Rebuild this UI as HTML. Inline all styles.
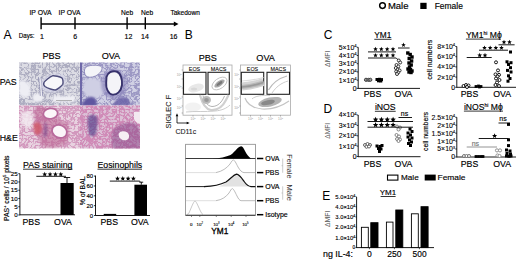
<!DOCTYPE html>
<html><head><meta charset="utf-8"><style>
html,body{margin:0;padding:0;background:#fff;width:520px;height:260px;overflow:hidden}
svg{display:block}
text{font-family:"Liberation Sans",sans-serif;stroke:currentColor;stroke-width:0.15px}
</style></head><body>
<svg width="520" height="260" viewBox="0 0 520 260">
<line x1="41" y1="24" x2="175" y2="24" stroke="#000" stroke-width="1.4" />
<path d="M173.8,21.5 L178.5,24 L173.8,26.5 Z" fill="#000" stroke="none" stroke-width="1" />
<line x1="41.1" y1="17.3" x2="41.1" y2="29.3" stroke="#000" stroke-width="1.4" />
<line x1="75" y1="17.3" x2="75" y2="29.3" stroke="#000" stroke-width="1.4" />
<line x1="127.1" y1="17.3" x2="127.1" y2="29.3" stroke="#000" stroke-width="1.4" />
<line x1="145.3" y1="17.3" x2="145.3" y2="29.3" stroke="#000" stroke-width="1.4" />
<text x="40.5" y="15" font-size="6.6" text-anchor="middle"  textLength="22.2" lengthAdjust="spacingAndGlyphs">IP OVA</text>
<text x="69.5" y="15" font-size="6.6" text-anchor="middle"  textLength="22" lengthAdjust="spacingAndGlyphs">IP OVA</text>
<text x="127.1" y="15" font-size="6.65" text-anchor="middle" >Neb</text>
<text x="147" y="15" font-size="6.65" text-anchor="middle" >Neb</text>
<text x="185.1" y="15" font-size="6.6" text-anchor="middle"  textLength="29.4" lengthAdjust="spacingAndGlyphs">Takedown</text>
<text x="18.75" y="38.3" font-size="6.4" text-anchor="start"  textLength="15.8" lengthAdjust="spacingAndGlyphs">Days:</text>
<text x="42" y="38.5" font-size="7" text-anchor="middle" >1</text>
<text x="75.1" y="38.5" font-size="7" text-anchor="middle" >6</text>
<text x="128.4" y="38.5" font-size="7" text-anchor="middle" >12</text>
<text x="144.9" y="38.5" font-size="7" text-anchor="middle" >14</text>
<text x="173.6" y="38.5" font-size="7" text-anchor="middle" >16</text>
<text x="3.6" y="38.5" font-size="12.2" text-anchor="start" style="stroke:none">A</text>
<text x="184.8" y="38.7" font-size="12" text-anchor="start" style="stroke:none">B</text>
<defs>
<filter id="n1" x="0" y="0" width="1" height="1"><feTurbulence type="turbulence" baseFrequency="0.28" numOctaves="2" seed="3"/><feColorMatrix type="matrix" values="0 0 0 0 0.412 0 0 0 0 0.412 0 0 0 0 0.529 -5.0 0 0 0 1.6"/><feComposite in2="SourceGraphic" operator="in"/></filter>
<filter id="n2" x="0" y="0" width="1" height="1"><feTurbulence type="turbulence" baseFrequency="0.28" numOctaves="2" seed="7"/><feColorMatrix type="matrix" values="0 0 0 0 0.333 0 0 0 0 0.314 0 0 0 0 0.549 -5.0 0 0 0 1.65"/><feComposite in2="SourceGraphic" operator="in"/></filter>
<filter id="n3" x="0" y="0" width="1" height="1"><feTurbulence type="turbulence" baseFrequency="0.28" numOctaves="2" seed="11"/><feColorMatrix type="matrix" values="0 0 0 0 0.647 0 0 0 0 0.314 0 0 0 0 0.510 -5.0 0 0 0 1.7"/><feComposite in2="SourceGraphic" operator="in"/></filter>
<filter id="n4" x="0" y="0" width="1" height="1"><feTurbulence type="turbulence" baseFrequency="0.3" numOctaves="2" seed="5"/><feColorMatrix type="matrix" values="0 0 0 0 0.627 0 0 0 0 0.255 0 0 0 0 0.471 -5.0 0 0 0 1.85"/><feComposite in2="SourceGraphic" operator="in"/></filter>
<clipPath id="c1"><rect x="19" y="62.5" width="61" height="43"/></clipPath>
<clipPath id="c2"><rect x="80" y="62.5" width="60" height="43"/></clipPath>
<clipPath id="c3"><rect x="19" y="105.5" width="61" height="43"/></clipPath>
<clipPath id="c4"><rect x="80" y="105.5" width="60" height="43"/></clipPath>
<filter id="sb" x="-30%" y="-30%" width="160%" height="160%"><feGaussianBlur stdDeviation="0.8"/></filter>
</defs>
<rect x="19" y="62.5" width="61" height="43" fill="#dcdce4" />
<rect x="19" y="62.5" width="61" height="43" fill="#000" filter="url(#n1)"/>
<g clip-path="url(#c1)">
<path d="M19,81 C23,79 28,82 30,86 C31,91 30,96 27,97 C23,98 20,96 19,94Z" fill="#eeeef4" stroke="none" stroke-width="1" filter="url(#sb)"/>
<path d="M33,95 C36,92 41,93 43,96 C44,100 40,103 35,102 C32,100 32,97 33,95Z" fill="#eeeef4" stroke="none" stroke-width="1" filter="url(#sb)"/>
<path d="M39.8,77 C40.5,83 41,89 41.5,96" fill="none" stroke="#eeeef4" stroke-width="1.5" />
<path d="M38.6,77 C39.3,83 39.8,89 40.3,96 M41,77 C41.7,83 42.2,89 42.7,96" fill="none" stroke="#8080a8" stroke-width="0.6" />
<rect x="53" y="96" width="22" height="6" fill="#eeeef4" filter="url(#sb)"/>
<line x1="56" y1="100.5" x2="72" y2="100.5" stroke="#888" stroke-width="0.6" />
<path d="M41,84 C41,80 46,76.5 52,74.5 C57,73 62,73.5 64.5,76.5 C66.5,79.5 65.5,85 61.5,89 C57.5,92 51,93 46.5,91.5 C43,90.3 41,87.5 41,84Z" fill="#d4d4e6" filter="url(#sb)"/>
<path d="M44,82.5 C44.5,81.5 50,76.5 52.5,75.8 C54.5,75.3 60,76.8 61.8,77.8 C63,78.6 63.3,82.5 62.8,84.2 C62,86 57,89.5 55.5,90 C54,90.4 47,88 45,86.5 C43.8,85.5 43.6,83.4 44,82.5Z" fill="#f7f7fa" stroke="#4e4e7c" stroke-width="1.4" />
</g>
<rect x="80" y="62.5" width="60" height="43" fill="#d0d0e4" />
<rect x="80" y="62.5" width="60" height="43" fill="#000" filter="url(#n2)"/>
<g clip-path="url(#c2)">
<path d="M84,80 C90,77 100,78 104,84 C106,90 104,96 97,98 C90,99 84,96 83,90Z" fill="#cfcfe4" stroke="none" stroke-width="1" filter="url(#sb)"/>
<rect x="79.5" y="62.5" width="2.6" height="43" fill="#6e68a8" />
<path d="M84.5,70 C85,66.5 89,65.3 94,65.3 C98,65.3 101.5,65.8 102,67.8 C102.3,70.5 99.5,74 95.5,76 C91.5,77.8 87.5,77.6 85.8,75.8 C84.6,74.3 84.3,72 84.5,70Z" fill="#f4f4f8" stroke="#7c78b0" stroke-width="0.8" />
<ellipse cx="114" cy="84" rx="13" ry="15" fill="#8a84bc" filter="url(#sb)" opacity="0.6"/>
<path d="M106.5,77 C107.5,72.5 112,70.5 116.5,71.5 C120.5,73 122.5,79 122,85 C121,91.5 117,95 112.5,94.6 C108,94 105.8,88 106.2,83Z" fill="#f4f4f8" stroke="#36316c" stroke-width="1.9" />
<path d="M82,106 C83,100 87,96.5 92,97 C96,98 97,102 96.5,106Z" fill="#5e56a0" stroke="none" stroke-width="1" filter="url(#sb)"/>
<path d="M113,106 C115,100 119,96 124,96.5 C129,98 131,102 130,106Z" fill="#6c64a8" stroke="none" stroke-width="1" filter="url(#sb)" opacity="0.85"/>
</g>
<rect x="19" y="105.5" width="61" height="43" fill="#e8d2e0" />
<rect x="19" y="105.5" width="61" height="43" fill="#000" filter="url(#n3)"/>
<g clip-path="url(#c3)">
<path d="M22,112 C26,110 31,112 33,116 C34,121 32,126 28,127 C24,127 21,122 21,117Z" fill="#f4ecf2" stroke="none" stroke-width="1" filter="url(#sb)" opacity="0.8"/>
<path d="M36,106 C42,106 48,107 52,112 C56,118 60,121 66,122 C70,126 70,138 66,143 C60,148 50,149 44,147 C38,142 36,132 35,122 C34,115 34,109 36,106Z" fill="#b8608f" stroke="none" stroke-width="1" filter="url(#sb)" opacity="0.55"/>
<path d="M33.5,124 C36,121 40,122 41.5,126 C42,131 40,135 36.5,135 C34,134 33,129 33.5,124Z" fill="#d05a6a" stroke="none" stroke-width="1" filter="url(#sb)" opacity="0.85"/>
<ellipse cx="50.5" cy="113.6" rx="7.2" ry="5.2" transform="rotate(-8 50.5 113.6)" fill="#fbf6f9" stroke="#b86a9c" stroke-width="1.7"/>
<ellipse cx="59.5" cy="131.4" rx="7.6" ry="6.3" transform="rotate(25 59.5 131.4)" fill="#fbf6f9" stroke="#b86a9c" stroke-width="1.7"/>
<path d="M45,121 C47,124 48,128 47,134 C46,138 44,139 43.5,135Z" fill="#7a4a8a" stroke="none" stroke-width="1" filter="url(#sb)" opacity="0.7"/>
</g>
<rect x="80" y="105.5" width="60" height="43" fill="#dcc0d6" />
<rect x="80" y="105.5" width="60" height="43" fill="#000" filter="url(#n4)"/>
<g clip-path="url(#c4)">
<path d="M88,117 C90,113.5 95,113.5 97,117 C98.5,121 97,128 96,134 C94,137 90,137 89,134 C88,128 87,121 88,117Z" fill="#5a468e" stroke="none" stroke-width="1" opacity="0.7" filter="url(#sb)"/>
<path d="M113,130 C118,124 128,121 135,123 C141,126 142,140 140,149 L113,149 C111,143 111,135 113,130Z" fill="#8a4c8a" stroke="none" stroke-width="1" opacity="0.55" filter="url(#sb)"/>
<path d="M118.7,134 C119.5,131 124,130.5 127.5,132.5 C130,135 129.5,139.5 126,140.3 C122,140.8 118.2,138 118.7,134Z" fill="#f6eef4" stroke="none" stroke-width="1" />
<path d="M134,112 C136,111.5 141,111.5 141,113 L141,124 C138,124 135,122 134,119Z" fill="#f3e9f0" stroke="none" stroke-width="1" />
</g>
<text x="51.5" y="59" font-size="9.1" text-anchor="middle" >PBS</text>
<text x="110.9" y="59" font-size="9.1" text-anchor="middle" >OVA</text>
<text x="-0.3" y="85" font-size="8.8" text-anchor="start" >PAS</text>
<text x="-0.3" y="141" font-size="8.8" text-anchor="start" >H&amp;E</text>
<text x="23" y="168" font-size="8.75" text-anchor="start" >PAS staining</text>
<line x1="23" y1="169.2" x2="72.5" y2="169.2" stroke="#000" stroke-width="0.8" />
<line x1="19.9" y1="173.7" x2="19.9" y2="215.2" stroke="#000" stroke-width="0.9" />
<line x1="19.9" y1="214.8" x2="75" y2="214.8" stroke="#000" stroke-width="0.9" />
<line x1="18.3" y1="215.0" x2="19.9" y2="215.0" stroke="#000" stroke-width="0.8" />
<text x="17.6" y="217.2" font-size="6.2" text-anchor="end" >0</text>
<line x1="18.3" y1="206.74" x2="19.9" y2="206.74" stroke="#000" stroke-width="0.8" />
<text x="17.6" y="208.94" font-size="6.2" text-anchor="end" >5</text>
<line x1="18.3" y1="198.48" x2="19.9" y2="198.48" stroke="#000" stroke-width="0.8" />
<text x="17.6" y="200.67999999999998" font-size="6.2" text-anchor="end" >10</text>
<line x1="18.3" y1="190.22" x2="19.9" y2="190.22" stroke="#000" stroke-width="0.8" />
<text x="17.6" y="192.42" font-size="6.2" text-anchor="end" >15</text>
<line x1="18.3" y1="181.96" x2="19.9" y2="181.96" stroke="#000" stroke-width="0.8" />
<text x="17.6" y="184.16" font-size="6.2" text-anchor="end" >20</text>
<line x1="18.3" y1="173.7" x2="19.9" y2="173.7" stroke="#000" stroke-width="0.8" />
<text x="17.6" y="175.89999999999998" font-size="6.2" text-anchor="end" >25</text>
<rect x="60.5" y="183" width="13.2" height="32" fill="#000" />
<line x1="67" y1="183" x2="67" y2="177.5" stroke="#000" stroke-width="0.9" />
<line x1="63.8" y1="177.5" x2="70.2" y2="177.5" stroke="#000" stroke-width="0.9" />
<line x1="36.3" y1="176.3" x2="66" y2="176.3" stroke="#000" stroke-width="0.9" />
<polygon points="44.70,171.80 45.36,173.39 47.08,173.53 45.77,174.65 46.17,176.32 44.70,175.43 43.23,176.32 43.63,174.65 42.32,173.53 44.04,173.39" fill="#000"/>
<polygon points="50.07,171.80 50.73,173.39 52.44,173.53 51.14,174.65 51.54,176.32 50.07,175.43 48.60,176.32 49.00,174.65 47.69,173.53 49.41,173.39" fill="#000"/>
<polygon points="55.43,171.80 56.09,173.39 57.81,173.53 56.50,174.65 56.90,176.32 55.43,175.43 53.96,176.32 54.36,174.65 53.06,173.53 54.77,173.39" fill="#000"/>
<polygon points="60.80,171.80 61.46,173.39 63.18,173.53 61.87,174.65 62.27,176.32 60.80,175.43 59.33,176.32 59.73,174.65 58.42,173.53 60.14,173.39" fill="#000"/>
<text x="31.3" y="225" font-size="8.75" text-anchor="middle" >PBS</text>
<text x="63" y="225" font-size="8.75" text-anchor="middle" >OVA</text>
<text transform="translate(8.7,221) rotate(-90)" font-size="6.6" textLength="65.5" lengthAdjust="spacingAndGlyphs">PAS<tspan font-size="4" dy="-2.5">+</tspan><tspan dy="2.5"> cells / 10</tspan><tspan font-size="4" dy="-2.5">5</tspan><tspan dy="2.5"> pixels</tspan></text>
<text x="97.5" y="168" font-size="8.75" text-anchor="start" >Eosinophils</text>
<line x1="97.5" y1="169.2" x2="142" y2="169.2" stroke="#000" stroke-width="0.8" />
<line x1="95.5" y1="175.6" x2="95.5" y2="215.7" stroke="#000" stroke-width="0.9" />
<line x1="95.5" y1="215.5" x2="150" y2="215.5" stroke="#000" stroke-width="0.9" />
<line x1="94" y1="215.5" x2="95.5" y2="215.5" stroke="#000" stroke-width="0.8" />
<text x="93.2" y="217.6" font-size="6" text-anchor="end" >0</text>
<line x1="94" y1="205.65" x2="95.5" y2="205.65" stroke="#000" stroke-width="0.8" />
<text x="93.2" y="207.75" font-size="6" text-anchor="end" >20</text>
<line x1="94" y1="195.8" x2="95.5" y2="195.8" stroke="#000" stroke-width="0.8" />
<text x="93.2" y="197.9" font-size="6" text-anchor="end" >40</text>
<line x1="94" y1="185.95" x2="95.5" y2="185.95" stroke="#000" stroke-width="0.8" />
<text x="93.2" y="188.04999999999998" font-size="6" text-anchor="end" >60</text>
<line x1="94" y1="176.1" x2="95.5" y2="176.1" stroke="#000" stroke-width="0.8" />
<text x="93.2" y="178.2" font-size="6" text-anchor="end" >80</text>
<rect x="103.7" y="213.9" width="12.5" height="1.3" fill="#000" />
<rect x="134.4" y="184.7" width="12.6" height="30.7" fill="#000" />
<line x1="141.3" y1="184.7" x2="141.3" y2="182.2" stroke="#000" stroke-width="0.9" />
<line x1="139.3" y1="182.2" x2="143.2" y2="182.2" stroke="#000" stroke-width="0.9" />
<line x1="109.8" y1="181.1" x2="139.8" y2="181.1" stroke="#000" stroke-width="0.9" />
<line x1="139.6" y1="181.1" x2="140.6" y2="182.2" stroke="#000" stroke-width="0.7" />
<polygon points="117.50,176.10 118.16,177.69 119.88,177.83 118.57,178.95 118.97,180.62 117.50,179.72 116.03,180.62 116.43,178.95 115.12,177.83 116.84,177.69" fill="#000"/>
<polygon points="122.80,176.10 123.46,177.69 125.18,177.83 123.87,178.95 124.27,180.62 122.80,179.72 121.33,180.62 121.73,178.95 120.42,177.83 122.14,177.69" fill="#000"/>
<polygon points="128.10,176.10 128.76,177.69 130.48,177.83 129.17,178.95 129.57,180.62 128.10,179.72 126.63,180.62 127.03,178.95 125.72,177.83 127.44,177.69" fill="#000"/>
<polygon points="133.40,176.10 134.06,177.69 135.78,177.83 134.47,178.95 134.87,180.62 133.40,179.72 131.93,180.62 132.33,178.95 131.02,177.83 132.74,177.69" fill="#000"/>
<text x="109.3" y="225" font-size="8.75" text-anchor="middle" >PBS</text>
<text x="139.8" y="225" font-size="8.75" text-anchor="middle" >OVA</text>
<text transform="translate(84.7,205.3) rotate(-90)" font-size="7" textLength="29" lengthAdjust="spacingAndGlyphs">% of BAL</text>
<text x="207.8" y="60.6" font-size="9.1" text-anchor="middle" >PBS</text>
<text x="265.6" y="60.6" font-size="9.1" text-anchor="middle" >OVA</text>
<rect x="183" y="65" width="49" height="50.2" fill="#fff" stroke="#aaa" stroke-width="0.8"/>
<rect x="240.5" y="65" width="50.0" height="50.2" fill="#fff" stroke="#aaa" stroke-width="0.8"/>
<rect x="183.5" y="72.3" width="22.5" height="22" fill="none" stroke="#222" stroke-width="1.1"/>
<rect x="208" y="72.3" width="21.30000000000001" height="22" fill="none" stroke="#222" stroke-width="1.1"/>
<rect x="241.3" y="72.3" width="22.399999999999977" height="22" fill="none" stroke="#222" stroke-width="1.1"/>
<rect x="267" y="72.3" width="22.5" height="22" fill="none" stroke="#222" stroke-width="1.1"/>
<text x="194.5" y="70.9" font-size="5.4" text-anchor="middle" style="stroke-width:0.08px">EOS</text>
<text x="218.6" y="70.9" font-size="5.4" text-anchor="middle" style="stroke-width:0.08px">MACS</text>
<text x="252.5" y="70.9" font-size="5.4" text-anchor="middle" style="stroke-width:0.08px">EOS</text>
<text x="278.2" y="70.9" font-size="5.4" text-anchor="middle" style="stroke-width:0.08px">MACS</text>
<defs><filter id="bl" x="-20%" y="-20%" width="140%" height="140%"><feGaussianBlur stdDeviation="0.7"/></filter><filter id="bl2" x="-20%" y="-20%" width="140%" height="140%"><feGaussianBlur stdDeviation="1.2"/></filter></defs>
<g filter="url(#bl)">
<ellipse cx="196" cy="88" rx="8" ry="4" fill="#e8e8e8" transform="rotate(-15 196 88)"/>
<ellipse cx="194" cy="89" rx="3" ry="1.5" fill="#d8d8d8"/>
<ellipse cx="219.5" cy="83.5" rx="8.5" ry="5" fill="none" stroke="#bbb" stroke-width="0.8" transform="rotate(-35 219.5 83.5)"/>
<ellipse cx="219.5" cy="83.5" rx="6" ry="2.6" fill="#aaa" transform="rotate(-35 219.5 83.5)"/>
<ellipse cx="219.5" cy="83.5" rx="3.5" ry="1.3" fill="#777" transform="rotate(-35 219.5 83.5)"/>
<path d="M200,95 C202,103 205,109 211,110 C218,110.5 223,106 226,100 C227,98 228,96 228.5,95" fill="none" stroke="#d0d0d0" stroke-width="2.2"/>
<path d="M203,95.5 C204,101 207,106 212,106.5 C218,106.5 222,102 224.5,96" fill="none" stroke="#aaa" stroke-width="0.9"/>
<ellipse cx="206.5" cy="100" rx="4.5" ry="4" fill="#bbb"/>
<ellipse cx="206.5" cy="100" rx="2.3" ry="2" fill="#999"/>
<ellipse cx="193" cy="107" rx="8" ry="4.5" fill="#f2f2f2"/>
<path d="M186,112 C195,111 205,112 215,111 C222,110.5 227,108 230,105" fill="none" stroke="#ccc" stroke-width="1"/>
<path d="M242,86.5 C249,86 256,84.5 263.5,82" fill="none" stroke="#d4d4d4" stroke-width="8"/>
<path d="M242,87 C249,86.5 256,85 263.5,82.5" fill="none" stroke="#b8b8b8" stroke-width="4"/>
<path d="M242,87 C249,86.5 256,85 263.5,82.5" fill="none" stroke="#9a9a9a" stroke-width="1.5"/>
<path d="M242,81 C249,80.5 256,79.5 263.5,77.5" fill="none" stroke="#ddd" stroke-width="1.2"/>
<path d="M268.5,90 C272,84 278,78.5 287,76" fill="none" stroke="#bbb" stroke-width="1.2"/>
<path d="M272,93 C276,87 281,83 288,81" fill="none" stroke="#ccc" stroke-width="1"/>
<ellipse cx="270" cy="102" rx="12" ry="4.5" fill="#b4b4b4" transform="rotate(-12 270 102)"/>
<ellipse cx="268" cy="102.5" rx="7" ry="2.4" fill="#888" transform="rotate(-12 268 102.5)"/>
<path d="M245,98 C247,104 252,108 262,109 C272,109.5 282,106 289,101" fill="none" stroke="#c4c4c4" stroke-width="1.2"/>
<path d="M252,99 C255,96 262,95 270,95.5" fill="none" stroke="#ccc" stroke-width="1"/>
</g>
<line x1="181.6" y1="70" x2="183" y2="70" stroke="#777" stroke-width="0.5" />
<line x1="181.6" y1="79" x2="183" y2="79" stroke="#777" stroke-width="0.5" />
<line x1="181.6" y1="88" x2="183" y2="88" stroke="#777" stroke-width="0.5" />
<line x1="181.6" y1="97" x2="183" y2="97" stroke="#777" stroke-width="0.5" />
<line x1="181.6" y1="106" x2="183" y2="106" stroke="#777" stroke-width="0.5" />
<line x1="181.6" y1="113" x2="183" y2="113" stroke="#777" stroke-width="0.5" />
<line x1="193" y1="115.2" x2="193" y2="116.6" stroke="#777" stroke-width="0.5" />
<text x="193" y="120" font-size="3.2" text-anchor="middle" fill="#999" color="#999" style="stroke:none">10<tspan font-size="2.2" dy="-1.2">3</tspan></text>
<line x1="203" y1="115.2" x2="203" y2="116.6" stroke="#777" stroke-width="0.5" />
<text x="203" y="120" font-size="3.2" text-anchor="middle" fill="#999" color="#999" style="stroke:none">10<tspan font-size="2.2" dy="-1.2">3</tspan></text>
<line x1="213" y1="115.2" x2="213" y2="116.6" stroke="#777" stroke-width="0.5" />
<text x="213" y="120" font-size="3.2" text-anchor="middle" fill="#999" color="#999" style="stroke:none">10<tspan font-size="2.2" dy="-1.2">3</tspan></text>
<line x1="223" y1="115.2" x2="223" y2="116.6" stroke="#777" stroke-width="0.5" />
<text x="223" y="120" font-size="3.2" text-anchor="middle" fill="#999" color="#999" style="stroke:none">10<tspan font-size="2.2" dy="-1.2">3</tspan></text>
<text x="181.4" y="76" font-size="3.2" text-anchor="end" fill="#999" color="#999" style="stroke:none">10<tspan font-size="2.2" dy="-1.2">3</tspan></text>
<text x="181.4" y="88" font-size="3.2" text-anchor="end" fill="#999" color="#999" style="stroke:none">10<tspan font-size="2.2" dy="-1.2">3</tspan></text>
<text x="181.4" y="100" font-size="3.2" text-anchor="end" fill="#999" color="#999" style="stroke:none">10<tspan font-size="2.2" dy="-1.2">3</tspan></text>
<text x="181.4" y="109" font-size="3.2" text-anchor="end" fill="#999" color="#999" style="stroke:none">10<tspan font-size="2.2" dy="-1.2">3</tspan></text>
<line x1="239.1" y1="70" x2="240.5" y2="70" stroke="#777" stroke-width="0.5" />
<line x1="239.1" y1="79" x2="240.5" y2="79" stroke="#777" stroke-width="0.5" />
<line x1="239.1" y1="88" x2="240.5" y2="88" stroke="#777" stroke-width="0.5" />
<line x1="239.1" y1="97" x2="240.5" y2="97" stroke="#777" stroke-width="0.5" />
<line x1="239.1" y1="106" x2="240.5" y2="106" stroke="#777" stroke-width="0.5" />
<line x1="239.1" y1="113" x2="240.5" y2="113" stroke="#777" stroke-width="0.5" />
<line x1="250.5" y1="115.2" x2="250.5" y2="116.6" stroke="#777" stroke-width="0.5" />
<text x="250.5" y="120" font-size="3.2" text-anchor="middle" fill="#999" color="#999" style="stroke:none">10<tspan font-size="2.2" dy="-1.2">3</tspan></text>
<line x1="260.5" y1="115.2" x2="260.5" y2="116.6" stroke="#777" stroke-width="0.5" />
<text x="260.5" y="120" font-size="3.2" text-anchor="middle" fill="#999" color="#999" style="stroke:none">10<tspan font-size="2.2" dy="-1.2">3</tspan></text>
<line x1="270.5" y1="115.2" x2="270.5" y2="116.6" stroke="#777" stroke-width="0.5" />
<text x="270.5" y="120" font-size="3.2" text-anchor="middle" fill="#999" color="#999" style="stroke:none">10<tspan font-size="2.2" dy="-1.2">3</tspan></text>
<line x1="280.5" y1="115.2" x2="280.5" y2="116.6" stroke="#777" stroke-width="0.5" />
<text x="280.5" y="120" font-size="3.2" text-anchor="middle" fill="#999" color="#999" style="stroke:none">10<tspan font-size="2.2" dy="-1.2">3</tspan></text>
<text x="238.9" y="76" font-size="3.2" text-anchor="end" fill="#999" color="#999" style="stroke:none">10<tspan font-size="2.2" dy="-1.2">3</tspan></text>
<text x="238.9" y="88" font-size="3.2" text-anchor="end" fill="#999" color="#999" style="stroke:none">10<tspan font-size="2.2" dy="-1.2">3</tspan></text>
<text x="238.9" y="100" font-size="3.2" text-anchor="end" fill="#999" color="#999" style="stroke:none">10<tspan font-size="2.2" dy="-1.2">3</tspan></text>
<text x="238.9" y="109" font-size="3.2" text-anchor="end" fill="#999" color="#999" style="stroke:none">10<tspan font-size="2.2" dy="-1.2">3</tspan></text>
<line x1="177" y1="123" x2="177" y2="115.5" stroke="#000" stroke-width="0.8" />
<path d="M175.7,116.3 L177,113.3 L178.3,116.3Z" fill="#000" stroke="none" stroke-width="1" />
<line x1="177" y1="123" x2="187.5" y2="123" stroke="#000" stroke-width="0.8" />
<path d="M186.7,121.7 L189.7,123 L186.7,124.3Z" fill="#000" stroke="none" stroke-width="1" />
<text transform="translate(171.3,128.5) rotate(-90)" font-size="7.4" fill="#222" color="#222" style="stroke-width:0.1px">SIGLEC F</text>
<text x="175.4" y="134.2" font-size="7" text-anchor="start" fill="#222" color="#222" style="stroke-width:0.1px">CD11c</text>
<rect x="185.6" y="144.3" width="69.8" height="71" fill="#fff" stroke="#888" stroke-width="0.8"/>
<line x1="185.6" y1="158.5" x2="255.4" y2="158.5" stroke="#222" stroke-width="0.9" />
<path d="M212,158.6 C220,158.2 226,157 230.5,155 C233,153.5 235,151 237,148.8 C238.5,147 240,146.2 241.3,146.2 C242.8,146.4 243.8,148.5 245,151 C246.5,154 248.5,156.8 251,158.6 Z" fill="#000" stroke="none" stroke-width="1" />
<path d="M186,172.6 L216,172.6" fill="none" stroke="#d6d6d6" stroke-width="0.8" />
<path d="M216,172.6 C222,171.5 227,168 230,164 C231.5,161.5 232.5,160 233.4,160 C234.5,160 236,163 238,167 C240,170.5 242,172.4 244,172.6 L255,172.6" fill="none" stroke="#aaa" stroke-width="0.8" />
<line x1="185.6" y1="186.6" x2="205" y2="186.6" stroke="#222" stroke-width="1.0" />
<path d="M218,186.6 C222,185.5 227,183 230,178.5 C231,177 232,176.3 233,175.5 C234.5,174.3 235.5,174.1 236.6,174.1 C239,174.3 241.5,178 244,181.5 C246,184.5 248,186.2 250.5,186.6 Z" fill="#e2e2e2" stroke="none" stroke-width="1" />
<path d="M204,186.6 C213,186.3 220,185 226,182 C230,179.5 233,175 236.6,174.1 C239.5,174.3 242,178.5 244.5,182 C246.5,184.8 248.5,186.3 251,186.6 L255.4,186.6" fill="none" stroke="#111" stroke-width="1.2" />
<path d="M186,200.7 L216,200.7" fill="none" stroke="#d6d6d6" stroke-width="0.8" />
<path d="M216,200.7 C222,199.8 226,197 229,193 C230.5,190.5 231.5,188.6 232.3,188.6 C233.5,188.6 235,192 237,196 C238.5,199 239.5,200.4 241,200.7 L255,200.7" fill="none" stroke="#aaa" stroke-width="0.8" />
<path d="M187,214.5 L188.7,213.5 C190.5,210 193.5,201 195,201 C196.5,201 199.5,210 201.8,213.5 L203,214.5" fill="none" stroke="#bbb" stroke-width="0.8" />
<line x1="185.6" y1="215.2" x2="255.4" y2="215.2" stroke="#333" stroke-width="1.1" />
<line x1="257" y1="158.5" x2="263.3" y2="158.5" stroke="#000" stroke-width="1.5" />
<line x1="257" y1="172.6" x2="263.3" y2="172.6" stroke="#000" stroke-width="1.5" />
<line x1="257" y1="186.6" x2="263.3" y2="186.6" stroke="#000" stroke-width="1.5" />
<line x1="257" y1="200.7" x2="263.3" y2="200.7" stroke="#000" stroke-width="1.5" />
<line x1="257" y1="214.7" x2="263.3" y2="214.7" stroke="#000" stroke-width="1.5" />
<text x="265.2" y="161.0" font-size="7" text-anchor="start" >OVA</text>
<text x="265.2" y="175.1" font-size="7" text-anchor="start" >PBS</text>
<text x="265.2" y="189.1" font-size="7" text-anchor="start" >OVA</text>
<text x="265.2" y="203.2" font-size="7" text-anchor="start" >PBS</text>
<text x="265.2" y="217.2" font-size="7" text-anchor="start" >Isotype</text>
<line x1="282.7" y1="158.6" x2="282.7" y2="172.8" stroke="#aaa" stroke-width="0.6" />
<line x1="281.5" y1="165.7" x2="282.7" y2="165.7" stroke="#aaa" stroke-width="0.6" />
<line x1="282.7" y1="186.3" x2="282.7" y2="199.7" stroke="#aaa" stroke-width="0.6" />
<line x1="281.5" y1="193" x2="282.7" y2="193" stroke="#aaa" stroke-width="0.6" />
<text transform="translate(287.3,154.2) rotate(90)" font-size="7.3" fill="#333" color="#333" style="stroke:none">Female</text>
<text transform="translate(287.3,184.6) rotate(90)" font-size="7.5" fill="#333" color="#333" style="stroke:none">Male</text>
<line x1="191.5" y1="215.3" x2="191.5" y2="217" stroke="#444" stroke-width="0.6" />
<line x1="199.8" y1="215.3" x2="199.8" y2="217" stroke="#444" stroke-width="0.6" />
<line x1="216.3" y1="215.3" x2="216.3" y2="217" stroke="#444" stroke-width="0.6" />
<line x1="231.2" y1="215.3" x2="231.2" y2="217" stroke="#444" stroke-width="0.6" />
<line x1="246" y1="215.3" x2="246" y2="217" stroke="#444" stroke-width="0.6" />
<text x="191.3" y="225.6" font-size="4.4" text-anchor="middle" >0</text>
<text x="196.55" y="225.6" font-size="4.4" text-anchor="start" fill="#000" color="#000" style="stroke-width:0.1px">10<tspan font-size="2.73" dy="-1.67">2</tspan></text>
<text x="213.15" y="225.6" font-size="4.4" text-anchor="start" fill="#000" color="#000" style="stroke-width:0.1px">10<tspan font-size="2.73" dy="-1.67">3</tspan></text>
<text x="227.95000000000002" y="225.6" font-size="4.4" text-anchor="start" fill="#000" color="#000" style="stroke-width:0.1px">10<tspan font-size="2.73" dy="-1.67">4</tspan></text>
<text x="242.15" y="225.6" font-size="4.4" text-anchor="start" fill="#000" color="#000" style="stroke-width:0.1px">10<tspan font-size="2.73" dy="-1.67">5</tspan></text>
<text x="219.75" y="234" font-size="8.8" text-anchor="middle" style="stroke-width:0.3px" textLength="17.1" lengthAdjust="spacingAndGlyphs">YM1</text>
<circle cx="382.5" cy="5.6" r="2.85" fill="#fff" stroke="#000" stroke-width="1.45"/>
<text x="387.9" y="8.8" font-size="8.2" text-anchor="start"  textLength="20.6" lengthAdjust="spacingAndGlyphs">Male</text>
<rect x="420.3" y="2.8" width="6.3" height="6.2" fill="#000" />
<text x="434.7" y="8.8" font-size="8.2" text-anchor="start"  textLength="28.2" lengthAdjust="spacingAndGlyphs">Female</text>
<text x="323.8" y="39" font-size="12" text-anchor="start" style="stroke:none">C</text>
<line x1="358.2" y1="47.3" x2="358.2" y2="88.80000000000001" stroke="#000" stroke-width="0.9" />
<line x1="358.2" y1="88.4" x2="420" y2="88.4" stroke="#000" stroke-width="0.9" />
<line x1="356.7" y1="88.4" x2="358.2" y2="88.4" stroke="#000" stroke-width="0.8" />
<text x="356.59999999999997" y="90.80000000000001" font-size="6.9" text-anchor="end" >0</text>
<line x1="356.7" y1="80.2" x2="358.2" y2="80.2" stroke="#000" stroke-width="0.8" />
<text x="356.59999999999997" y="82.60000000000001" font-size="6.9" text-anchor="end" fill="#000" color="#000" style="stroke-width:0.1px">1×10<tspan font-size="4.28" dy="-2.62">4</tspan></text>
<line x1="356.7" y1="71.9" x2="358.2" y2="71.9" stroke="#000" stroke-width="0.8" />
<text x="356.59999999999997" y="74.30000000000001" font-size="6.9" text-anchor="end" fill="#000" color="#000" style="stroke-width:0.1px">2×10<tspan font-size="4.28" dy="-2.62">4</tspan></text>
<line x1="356.7" y1="63.7" x2="358.2" y2="63.7" stroke="#000" stroke-width="0.8" />
<text x="356.59999999999997" y="66.10000000000001" font-size="6.9" text-anchor="end" fill="#000" color="#000" style="stroke-width:0.1px">3×10<tspan font-size="4.28" dy="-2.62">4</tspan></text>
<line x1="356.7" y1="55.5" x2="358.2" y2="55.5" stroke="#000" stroke-width="0.8" />
<text x="356.59999999999997" y="57.9" font-size="6.9" text-anchor="end" fill="#000" color="#000" style="stroke-width:0.1px">4×10<tspan font-size="4.28" dy="-2.62">4</tspan></text>
<line x1="356.7" y1="47.3" x2="358.2" y2="47.3" stroke="#000" stroke-width="0.8" />
<text x="356.59999999999997" y="49.699999999999996" font-size="6.9" text-anchor="end" fill="#000" color="#000" style="stroke-width:0.1px">5×10<tspan font-size="4.28" dy="-2.62">4</tspan></text>
<text x="374.3" y="37.8" font-size="8.6" text-anchor="start"  textLength="17.1" lengthAdjust="spacingAndGlyphs">YM1</text>
<line x1="374.3" y1="39.3" x2="391.5" y2="39.3" stroke="#000" stroke-width="0.8" />
<text transform="translate(330.2,66.9) rotate(-90)" font-size="6.8" fill="#555" color="#555" style="stroke:none" textLength="16.3" lengthAdjust="spacingAndGlyphs">ΔMFI</text>
<circle cx="366" cy="79.8" r="1.6" fill="#999" stroke="#333" stroke-width="0.9"/>
<circle cx="368.5" cy="79.9" r="1.6" fill="#999" stroke="#333" stroke-width="0.9"/>
<circle cx="370.3" cy="79.8" r="1.6" fill="#999" stroke="#333" stroke-width="0.9"/>
<rect x="375.5" y="78.0" width="3" height="3" fill="#000" />
<rect x="378.0" y="77.8" width="3" height="3" fill="#000" />
<rect x="380.0" y="78.1" width="3" height="3" fill="#000" />
<rect x="377.0" y="79.3" width="3" height="3" fill="#000" />
<rect x="379.3" y="79.5" width="3" height="3" fill="#000" />
<circle cx="398.8" cy="60.5" r="1.5" fill="#fff" stroke="#222" stroke-width="0.9"/>
<circle cx="400.2" cy="62.5" r="1.5" fill="#fff" stroke="#222" stroke-width="0.9"/>
<circle cx="396.5" cy="65" r="1.5" fill="#fff" stroke="#222" stroke-width="0.9"/>
<circle cx="398.3" cy="66.5" r="1.5" fill="#fff" stroke="#222" stroke-width="0.9"/>
<circle cx="395.8" cy="68" r="1.5" fill="#fff" stroke="#222" stroke-width="0.9"/>
<circle cx="397.8" cy="69.5" r="1.5" fill="#fff" stroke="#222" stroke-width="0.9"/>
<circle cx="399.6" cy="70.5" r="1.5" fill="#fff" stroke="#222" stroke-width="0.9"/>
<circle cx="396.2" cy="71.5" r="1.5" fill="#fff" stroke="#222" stroke-width="0.9"/>
<circle cx="398.2" cy="72.5" r="1.5" fill="#fff" stroke="#222" stroke-width="0.9"/>
<circle cx="397" cy="74" r="1.5" fill="#fff" stroke="#222" stroke-width="0.9"/>
<rect x="406.1" y="51.3" width="3.4" height="3.4" fill="#000" />
<rect x="408.5" y="52.8" width="3.4" height="3.4" fill="#000" />
<rect x="410.3" y="55.3" width="3.4" height="3.4" fill="#000" />
<rect x="407.5" y="56.8" width="3.4" height="3.4" fill="#000" />
<rect x="409.90000000000003" y="59.3" width="3.4" height="3.4" fill="#000" />
<rect x="407.3" y="61.3" width="3.4" height="3.4" fill="#000" />
<rect x="409.5" y="63.3" width="3.4" height="3.4" fill="#000" />
<rect x="407.8" y="65.3" width="3.4" height="3.4" fill="#000" />
<rect x="406.3" y="67.3" width="3.4" height="3.4" fill="#000" />
<rect x="408.8" y="67.8" width="3.4" height="3.4" fill="#000" />
<rect x="410.3" y="69.3" width="3.4" height="3.4" fill="#000" />
<rect x="407.3" y="70.3" width="3.4" height="3.4" fill="#000" />
<rect x="409.3" y="70.8" width="3.4" height="3.4" fill="#000" />
<line x1="368" y1="51.9" x2="396" y2="51.9" stroke="#000" stroke-width="0.9" />
<line x1="368" y1="58" x2="396" y2="58" stroke="#000" stroke-width="0.9" />
<line x1="396" y1="58" x2="398" y2="59.6" stroke="#000" stroke-width="0.8" />
<polygon points="375.50,46.80 376.13,48.33 377.78,48.46 376.53,49.53 376.91,51.14 375.50,50.28 374.09,51.14 374.47,49.53 373.22,48.46 374.87,48.33" fill="#000"/>
<polygon points="381.33,46.80 381.97,48.33 383.62,48.46 382.36,49.53 382.74,51.14 381.33,50.28 379.92,51.14 380.31,49.53 379.05,48.46 380.70,48.33" fill="#000"/>
<polygon points="387.17,46.80 387.80,48.33 389.45,48.46 388.19,49.53 388.58,51.14 387.17,50.28 385.76,51.14 386.14,49.53 384.88,48.46 386.53,48.33" fill="#000"/>
<polygon points="393.00,46.80 393.63,48.33 395.28,48.46 394.03,49.53 394.41,51.14 393.00,50.28 391.59,51.14 391.97,49.53 390.72,48.46 392.37,48.33" fill="#000"/>
<polygon points="375.50,52.90 376.13,54.43 377.78,54.56 376.53,55.63 376.91,57.24 375.50,56.38 374.09,57.24 374.47,55.63 373.22,54.56 374.87,54.43" fill="#000"/>
<polygon points="381.33,52.90 381.97,54.43 383.62,54.56 382.36,55.63 382.74,57.24 381.33,56.38 379.92,57.24 380.31,55.63 379.05,54.56 380.70,54.43" fill="#000"/>
<polygon points="387.17,52.90 387.80,54.43 389.45,54.56 388.19,55.63 388.58,57.24 387.17,56.38 385.76,57.24 386.14,55.63 384.88,54.56 386.53,54.43" fill="#000"/>
<polygon points="393.00,52.90 393.63,54.43 395.28,54.56 394.03,55.63 394.41,57.24 393.00,56.38 391.59,57.24 391.97,55.63 390.72,54.56 392.37,54.43" fill="#000"/>
<line x1="398" y1="48" x2="409.6" y2="48" stroke="#000" stroke-width="0.9" />
<polygon points="403.50,42.60 404.13,44.13 405.78,44.26 404.53,45.33 404.91,46.94 403.50,46.08 402.09,46.94 402.47,45.33 401.22,44.26 402.87,44.13" fill="#000"/>
<text x="372.5" y="97" font-size="8.75" text-anchor="middle" >PBS</text>
<text x="403.5" y="97" font-size="8.75" text-anchor="middle" >OVA</text>
<line x1="456.8" y1="46.5" x2="456.8" y2="87.7" stroke="#000" stroke-width="0.9" />
<line x1="456.8" y1="87.3" x2="516" y2="87.3" stroke="#000" stroke-width="0.9" />
<line x1="455.3" y1="87.3" x2="456.8" y2="87.3" stroke="#000" stroke-width="0.8" />
<text x="455.2" y="89.7" font-size="6.9" text-anchor="end" >0</text>
<line x1="455.3" y1="77.1" x2="456.8" y2="77.1" stroke="#000" stroke-width="0.8" />
<text x="455.2" y="79.5" font-size="6.9" text-anchor="end" fill="#000" color="#000" style="stroke-width:0.1px">2×10<tspan font-size="4.28" dy="-2.62">4</tspan></text>
<line x1="455.3" y1="66.9" x2="456.8" y2="66.9" stroke="#000" stroke-width="0.8" />
<text x="455.2" y="69.30000000000001" font-size="6.9" text-anchor="end" fill="#000" color="#000" style="stroke-width:0.1px">4×10<tspan font-size="4.28" dy="-2.62">4</tspan></text>
<line x1="455.3" y1="56.7" x2="456.8" y2="56.7" stroke="#000" stroke-width="0.8" />
<text x="455.2" y="59.1" font-size="6.9" text-anchor="end" fill="#000" color="#000" style="stroke-width:0.1px">6×10<tspan font-size="4.28" dy="-2.62">4</tspan></text>
<line x1="455.3" y1="46.5" x2="456.8" y2="46.5" stroke="#000" stroke-width="0.8" />
<text x="455.2" y="48.9" font-size="6.9" text-anchor="end" fill="#000" color="#000" style="stroke-width:0.1px">8×10<tspan font-size="4.28" dy="-2.62">4</tspan></text>
<text x="465.9" y="37.6" font-size="8.6" text-anchor="start" >YM1<tspan font-size="5" dy="-2.8">hi</tspan><tspan dy="2.8"> Mϕ</tspan></text>
<line x1="465.9" y1="39.1" x2="501" y2="39.1" stroke="#000" stroke-width="0.8" />
<text transform="translate(431.6,79.7) rotate(-90)" font-size="7" textLength="40" lengthAdjust="spacingAndGlyphs">cell numbers</text>
<circle cx="463.5" cy="86" r="1.5" fill="#fff" stroke="#000" stroke-width="0.9"/>
<circle cx="466" cy="85" r="1.5" fill="#fff" stroke="#000" stroke-width="0.9"/>
<circle cx="468.5" cy="85.5" r="1.5" fill="#fff" stroke="#000" stroke-width="0.9"/>
<circle cx="467" cy="87" r="1.5" fill="#fff" stroke="#000" stroke-width="0.9"/>
<rect x="474.6" y="85.1" width="2.8" height="2.8" fill="#000" />
<rect x="477.1" y="84.6" width="2.8" height="2.8" fill="#000" />
<rect x="479.6" y="85.1" width="2.8" height="2.8" fill="#000" />
<rect x="478.1" y="85.6" width="2.8" height="2.8" fill="#000" />
<circle cx="496" cy="62.3" r="1.5" fill="#fff" stroke="#000" stroke-width="0.9"/>
<circle cx="498" cy="70.4" r="1.5" fill="#fff" stroke="#000" stroke-width="0.9"/>
<circle cx="495.5" cy="74.4" r="1.5" fill="#fff" stroke="#000" stroke-width="0.9"/>
<circle cx="499" cy="74.8" r="1.5" fill="#fff" stroke="#000" stroke-width="0.9"/>
<circle cx="497.5" cy="76.5" r="1.5" fill="#fff" stroke="#000" stroke-width="0.9"/>
<circle cx="496" cy="78.5" r="1.5" fill="#fff" stroke="#000" stroke-width="0.9"/>
<circle cx="499.5" cy="80" r="1.5" fill="#fff" stroke="#000" stroke-width="0.9"/>
<circle cx="497" cy="82.5" r="1.5" fill="#fff" stroke="#000" stroke-width="0.9"/>
<circle cx="495.5" cy="85" r="1.5" fill="#fff" stroke="#000" stroke-width="0.9"/>
<circle cx="499" cy="86" r="1.5" fill="#fff" stroke="#000" stroke-width="0.9"/>
<rect x="509.0" y="50.5" width="3" height="3" fill="#000" />
<rect x="505.5" y="60.3" width="3" height="3" fill="#000" />
<rect x="509.5" y="61.2" width="3" height="3" fill="#000" />
<rect x="507.0" y="63.0" width="3" height="3" fill="#000" />
<rect x="509.0" y="66.2" width="3" height="3" fill="#000" />
<rect x="506.0" y="68.9" width="3" height="3" fill="#000" />
<rect x="509.5" y="70.5" width="3" height="3" fill="#000" />
<rect x="507.0" y="74.3" width="3" height="3" fill="#000" />
<rect x="508.5" y="77.0" width="3" height="3" fill="#000" />
<rect x="506.5" y="79.7" width="3" height="3" fill="#000" />
<line x1="466.7" y1="57.5" x2="491.7" y2="57.5" stroke="#000" stroke-width="0.9" />
<polygon points="479.70,52.80 480.36,54.39 482.08,54.53 480.77,55.65 481.17,57.32 479.70,56.42 478.23,57.32 478.63,55.65 477.32,54.53 479.04,54.39" fill="#000"/>
<polygon points="485.00,52.80 485.66,54.39 487.38,54.53 486.07,55.65 486.47,57.32 485.00,56.42 483.53,57.32 483.93,55.65 482.62,54.53 484.34,54.39" fill="#000"/>
<line x1="479" y1="50.2" x2="508" y2="50.2" stroke="#000" stroke-width="0.9" />
<polygon points="484.50,45.40 485.13,46.93 486.78,47.06 485.53,48.13 485.91,49.74 484.50,48.88 483.09,49.74 483.47,48.13 482.22,47.06 483.87,46.93" fill="#000"/>
<polygon points="490.17,45.40 490.80,46.93 492.45,47.06 491.19,48.13 491.58,49.74 490.17,48.88 488.76,49.74 489.14,48.13 487.88,47.06 489.53,46.93" fill="#000"/>
<polygon points="495.83,45.40 496.47,46.93 498.12,47.06 496.86,48.13 497.24,49.74 495.83,48.88 494.42,49.74 494.81,48.13 493.55,47.06 495.20,46.93" fill="#000"/>
<polygon points="501.50,45.40 502.13,46.93 503.78,47.06 502.53,48.13 502.91,49.74 501.50,48.88 500.09,49.74 500.47,48.13 499.22,47.06 500.87,46.93" fill="#000"/>
<line x1="498.5" y1="44.8" x2="514.6" y2="44.8" stroke="#000" stroke-width="0.9" />
<polygon points="504.00,39.80 504.63,41.33 506.28,41.46 505.03,42.53 505.41,44.14 504.00,43.28 502.59,44.14 502.97,42.53 501.72,41.46 503.37,41.33" fill="#000"/>
<polygon points="509.50,39.80 510.13,41.33 511.78,41.46 510.53,42.53 510.91,44.14 509.50,43.28 508.09,44.14 508.47,42.53 507.22,41.46 508.87,41.33" fill="#000"/>
<text x="469.5" y="97" font-size="8.75" text-anchor="middle" >PBS</text>
<text x="502.2" y="97" font-size="8.75" text-anchor="middle" >OVA</text>
<text x="323.6" y="112.9" font-size="12" text-anchor="start" style="stroke:none">D</text>
<line x1="358.2" y1="115" x2="358.2" y2="157.1" stroke="#000" stroke-width="0.9" />
<line x1="358.2" y1="156.7" x2="420.5" y2="156.7" stroke="#000" stroke-width="0.9" />
<line x1="356.7" y1="156.5" x2="358.2" y2="156.5" stroke="#000" stroke-width="0.8" />
<text x="356.59999999999997" y="158.9" font-size="6.9" text-anchor="end" >0</text>
<line x1="356.7" y1="146.1" x2="358.2" y2="146.1" stroke="#000" stroke-width="0.8" />
<text x="356.59999999999997" y="148.5" font-size="6.9" text-anchor="end" fill="#000" color="#000" style="stroke-width:0.1px">1×10<tspan font-size="4.28" dy="-2.62">4</tspan></text>
<line x1="356.7" y1="135.8" x2="358.2" y2="135.8" stroke="#000" stroke-width="0.8" />
<text x="356.59999999999997" y="138.20000000000002" font-size="6.9" text-anchor="end" fill="#000" color="#000" style="stroke-width:0.1px">2×10<tspan font-size="4.28" dy="-2.62">4</tspan></text>
<line x1="356.7" y1="125.4" x2="358.2" y2="125.4" stroke="#000" stroke-width="0.8" />
<text x="356.59999999999997" y="127.80000000000001" font-size="6.9" text-anchor="end" fill="#000" color="#000" style="stroke-width:0.1px">3×10<tspan font-size="4.28" dy="-2.62">4</tspan></text>
<line x1="356.7" y1="115" x2="358.2" y2="115" stroke="#000" stroke-width="0.8" />
<text x="356.59999999999997" y="117.4" font-size="6.9" text-anchor="end" fill="#000" color="#000" style="stroke-width:0.1px">4×10<tspan font-size="4.28" dy="-2.62">4</tspan></text>
<text x="374.9" y="109.8" font-size="8.6" text-anchor="start"  textLength="20.8" lengthAdjust="spacingAndGlyphs">iNOS</text>
<line x1="374.9" y1="111.3" x2="395.7" y2="111.3" stroke="#000" stroke-width="0.8" />
<text transform="translate(330.2,138.8) rotate(-90)" font-size="6.8" fill="#555" color="#555" style="stroke:none" textLength="16" lengthAdjust="spacingAndGlyphs">ΔMFI</text>
<circle cx="365" cy="145" r="1.5" fill="#fff" stroke="#555" stroke-width="0.9"/>
<circle cx="367.5" cy="144" r="1.5" fill="#fff" stroke="#555" stroke-width="0.9"/>
<circle cx="370" cy="145" r="1.5" fill="#fff" stroke="#555" stroke-width="0.9"/>
<circle cx="366.5" cy="146.8" r="1.5" fill="#fff" stroke="#555" stroke-width="0.9"/>
<circle cx="369" cy="146.5" r="1.5" fill="#fff" stroke="#555" stroke-width="0.9"/>
<rect x="375.5" y="144.5" width="3" height="3" fill="#000" />
<rect x="378.5" y="145.0" width="3" height="3" fill="#000" />
<rect x="380.5" y="144.0" width="3" height="3" fill="#000" />
<rect x="377.0" y="147.0" width="3" height="3" fill="#000" />
<rect x="379.5" y="147.5" width="3" height="3" fill="#000" />
<rect x="378.0" y="150.0" width="3" height="3" fill="#000" />
<circle cx="397" cy="126.5" r="1.5" fill="#fff" stroke="#777" stroke-width="0.9"/>
<circle cx="400" cy="127.5" r="1.5" fill="#fff" stroke="#777" stroke-width="0.9"/>
<circle cx="398.5" cy="129.5" r="1.5" fill="#fff" stroke="#777" stroke-width="0.9"/>
<circle cx="396.5" cy="135" r="1.5" fill="#fff" stroke="#777" stroke-width="0.9"/>
<circle cx="399" cy="136.5" r="1.5" fill="#fff" stroke="#777" stroke-width="0.9"/>
<circle cx="397" cy="139" r="1.5" fill="#fff" stroke="#777" stroke-width="0.9"/>
<circle cx="400" cy="139.5" r="1.5" fill="#fff" stroke="#777" stroke-width="0.9"/>
<circle cx="398.5" cy="141" r="1.5" fill="#fff" stroke="#777" stroke-width="0.9"/>
<rect x="408.5" y="127.5" width="3" height="3" fill="#000" />
<rect x="410.5" y="130.0" width="3" height="3" fill="#000" />
<rect x="406.5" y="131.5" width="3" height="3" fill="#000" />
<rect x="409.0" y="133.5" width="3" height="3" fill="#000" />
<rect x="406.5" y="135.5" width="3" height="3" fill="#000" />
<rect x="410.5" y="136.5" width="3" height="3" fill="#000" />
<rect x="408.0" y="138.5" width="3" height="3" fill="#000" />
<rect x="410.0" y="140.5" width="3" height="3" fill="#000" />
<rect x="407.0" y="142.0" width="3" height="3" fill="#000" />
<rect x="409.0" y="144.0" width="3" height="3" fill="#000" />
<line x1="367.5" y1="121.5" x2="413" y2="121.5" stroke="#000" stroke-width="0.9" />
<line x1="367.5" y1="127.2" x2="413" y2="127.2" stroke="#000" stroke-width="0.9" />
<polygon points="375.60,116.70 376.37,118.54 378.36,118.70 376.84,120.00 377.30,121.95 375.60,120.91 373.90,121.95 374.36,120.00 372.84,118.70 374.83,118.54" fill="#000"/>
<polygon points="381.43,116.70 382.20,118.54 384.19,118.70 382.67,120.00 383.14,121.95 381.43,120.91 379.73,121.95 380.19,120.00 378.68,118.70 380.67,118.54" fill="#000"/>
<polygon points="387.27,116.70 388.03,118.54 390.02,118.70 388.51,120.00 388.97,121.95 387.27,120.91 385.56,121.95 386.03,120.00 384.51,118.70 386.50,118.54" fill="#000"/>
<polygon points="393.10,116.70 393.87,118.54 395.86,118.70 394.34,120.00 394.80,121.95 393.10,120.91 391.40,121.95 391.86,120.00 390.34,118.70 392.33,118.54" fill="#000"/>
<polygon points="375.60,122.10 376.37,123.94 378.36,124.10 376.84,125.40 377.30,127.35 375.60,126.31 373.90,127.35 374.36,125.40 372.84,124.10 374.83,123.94" fill="#000"/>
<polygon points="381.43,122.10 382.20,123.94 384.19,124.10 382.67,125.40 383.14,127.35 381.43,126.31 379.73,127.35 380.19,125.40 378.68,124.10 380.67,123.94" fill="#000"/>
<polygon points="387.27,122.10 388.03,123.94 390.02,124.10 388.51,125.40 388.97,127.35 387.27,126.31 385.56,127.35 386.03,125.40 384.51,124.10 386.50,123.94" fill="#000"/>
<polygon points="393.10,122.10 393.87,123.94 395.86,124.10 394.34,125.40 394.80,127.35 393.10,126.31 391.40,127.35 391.86,125.40 390.34,124.10 392.33,123.94" fill="#000"/>
<line x1="398.5" y1="117.5" x2="412" y2="117.5" stroke="#000" stroke-width="0.9" />
<text x="404.5" y="115.8" font-size="7" text-anchor="middle" >ns</text>
<text x="372.5" y="166.5" font-size="8.75" text-anchor="middle" >PBS</text>
<text x="403.5" y="166.5" font-size="8.75" text-anchor="middle" >OVA</text>
<line x1="456.8" y1="117.3" x2="456.8" y2="157.4" stroke="#000" stroke-width="0.9" />
<line x1="456.8" y1="157" x2="516" y2="157" stroke="#000" stroke-width="0.9" />
<line x1="455.3" y1="157" x2="456.8" y2="157" stroke="#000" stroke-width="0.8" />
<text x="455.2" y="159.4" font-size="6.9" text-anchor="end" >0</text>
<line x1="455.3" y1="149" x2="456.8" y2="149" stroke="#000" stroke-width="0.8" />
<text x="455.2" y="151.4" font-size="6.9" text-anchor="end" fill="#000" color="#000" style="stroke-width:0.1px">5×10<tspan font-size="4.28" dy="-2.62">3</tspan></text>
<line x1="455.3" y1="141.1" x2="456.8" y2="141.1" stroke="#000" stroke-width="0.8" />
<text x="455.2" y="143.5" font-size="6.9" text-anchor="end" fill="#000" color="#000" style="stroke-width:0.1px">1×10<tspan font-size="4.28" dy="-2.62">4</tspan></text>
<line x1="455.3" y1="133.2" x2="456.8" y2="133.2" stroke="#000" stroke-width="0.8" />
<text x="455.2" y="135.6" font-size="6.9" text-anchor="end" fill="#000" color="#000" style="stroke-width:0.1px">1.5×10<tspan font-size="4.28" dy="-2.62">4</tspan></text>
<line x1="455.3" y1="125.2" x2="456.8" y2="125.2" stroke="#000" stroke-width="0.8" />
<text x="455.2" y="127.60000000000001" font-size="6.9" text-anchor="end" fill="#000" color="#000" style="stroke-width:0.1px">2×10<tspan font-size="4.28" dy="-2.62">4</tspan></text>
<line x1="455.3" y1="117.3" x2="456.8" y2="117.3" stroke="#000" stroke-width="0.8" />
<text x="455.2" y="119.7" font-size="6.9" text-anchor="end" fill="#000" color="#000" style="stroke-width:0.1px">2.5×10<tspan font-size="4.28" dy="-2.62">4</tspan></text>
<text x="463.9" y="109.6" font-size="8.6" text-anchor="start" >iNOS<tspan font-size="5" dy="-2.8">hi</tspan><tspan dy="2.8"> Mϕ</tspan></text>
<line x1="463.9" y1="111.1" x2="503" y2="111.1" stroke="#000" stroke-width="0.8" />
<text transform="translate(427.5,151) rotate(-90)" font-size="7" textLength="39" lengthAdjust="spacingAndGlyphs">cell numbers</text>
<circle cx="464" cy="156" r="1.5" fill="#fff" stroke="#666" stroke-width="0.9"/>
<circle cx="466.5" cy="156" r="1.5" fill="#fff" stroke="#666" stroke-width="0.9"/>
<circle cx="469" cy="156" r="1.5" fill="#fff" stroke="#666" stroke-width="0.9"/>
<rect x="474.6" y="155.1" width="2.8" height="2.8" fill="#000" />
<rect x="477.1" y="155.1" width="2.8" height="2.8" fill="#000" />
<rect x="479.6" y="155.1" width="2.8" height="2.8" fill="#000" />
<rect x="481.6" y="155.1" width="2.8" height="2.8" fill="#000" />
<circle cx="497" cy="150.4" r="1.6" fill="#fff" stroke="#888" stroke-width="0.9"/>
<circle cx="500" cy="150.4" r="1.6" fill="#fff" stroke="#888" stroke-width="0.9"/>
<circle cx="497.5" cy="155.5" r="1.6" fill="#fff" stroke="#888" stroke-width="0.9"/>
<circle cx="499.5" cy="156" r="1.6" fill="#fff" stroke="#888" stroke-width="0.9"/>
<rect x="507.0" y="122.9" width="3" height="3" fill="#000" />
<rect x="507.0" y="138.3" width="3" height="3" fill="#000" />
<rect x="507.0" y="144.1" width="3" height="3" fill="#000" />
<rect x="505.0" y="148.5" width="3" height="3" fill="#000" />
<rect x="508.5" y="149.5" width="3" height="3" fill="#000" />
<rect x="505.5" y="152.0" width="3" height="3" fill="#000" />
<rect x="509.0" y="152.5" width="3" height="3" fill="#000" />
<rect x="505.0" y="154.5" width="3" height="3" fill="#000" />
<rect x="507.5" y="154.8" width="3" height="3" fill="#000" />
<rect x="509.5" y="154.5" width="3" height="3" fill="#000" />
<line x1="466.7" y1="147" x2="497" y2="147" stroke="#888" stroke-width="0.9" />
<text x="475.4" y="145.6" font-size="7" text-anchor="middle" fill="#777" color="#777">ns</text>
<line x1="478.7" y1="138.5" x2="508.5" y2="138.5" stroke="#000" stroke-width="0.9" />
<polygon points="494.60,133.20 495.31,134.92 497.17,135.07 495.76,136.28 496.19,138.08 494.60,137.12 493.01,138.08 493.44,136.28 492.03,135.07 493.89,134.92" fill="#000"/>
<line x1="498.5" y1="123" x2="510" y2="123" stroke="#000" stroke-width="0.9" />
<text x="503" y="121.4" font-size="7" text-anchor="middle" >ns</text>
<text x="469.5" y="166.5" font-size="8.75" text-anchor="middle" >PBS</text>
<text x="502.2" y="166.5" font-size="8.75" text-anchor="middle" >OVA</text>
<rect x="387.5" y="175.1" width="10.4" height="5" fill="#fff" stroke="#000" stroke-width="1.1"/>
<text x="401.1" y="180.4" font-size="8" text-anchor="start"  textLength="17.6" lengthAdjust="spacingAndGlyphs">Male</text>
<rect x="424.7" y="174.6" width="11" height="5.9" fill="#000" />
<text x="437.5" y="180.4" font-size="8" text-anchor="start"  textLength="28" lengthAdjust="spacingAndGlyphs">Female</text>
<text x="322.3" y="200" font-size="12" text-anchor="start" style="stroke:none">E</text>
<text x="388" y="195" font-size="8" text-anchor="middle" >YM1</text>
<line x1="380.6" y1="196.5" x2="395.6" y2="196.5" stroke="#000" stroke-width="0.8" />
<line x1="356.6" y1="197" x2="356.6" y2="248" stroke="#000" stroke-width="0.9" />
<line x1="356.6" y1="247.6" x2="434" y2="247.6" stroke="#000" stroke-width="0.9" />
<line x1="355.4" y1="247.6" x2="356.6" y2="247.6" stroke="#000" stroke-width="0.6" />
<text x="355.2" y="249.4" font-size="4.8" text-anchor="end" >0</text>
<line x1="355.4" y1="237.4" x2="356.6" y2="237.4" stroke="#000" stroke-width="0.6" />
<text x="335.3" y="239.6" font-size="4.8" textLength="20" lengthAdjust="spacingAndGlyphs" style="stroke-width:0.1px">1.0×10<tspan font-size="3" dy="-2">4</tspan></text>
<line x1="355.4" y1="227.2" x2="356.6" y2="227.2" stroke="#000" stroke-width="0.6" />
<text x="335.3" y="229.39999999999998" font-size="4.8" textLength="20" lengthAdjust="spacingAndGlyphs" style="stroke-width:0.1px">2.0×10<tspan font-size="3" dy="-2">4</tspan></text>
<line x1="355.4" y1="217.0" x2="356.6" y2="217.0" stroke="#000" stroke-width="0.6" />
<text x="335.3" y="219.2" font-size="4.8" textLength="20" lengthAdjust="spacingAndGlyphs" style="stroke-width:0.1px">3.0×10<tspan font-size="3" dy="-2">4</tspan></text>
<line x1="355.4" y1="206.8" x2="356.6" y2="206.8" stroke="#000" stroke-width="0.6" />
<text x="335.3" y="209.0" font-size="4.8" textLength="20" lengthAdjust="spacingAndGlyphs" style="stroke-width:0.1px">4.0×10<tspan font-size="3" dy="-2">4</tspan></text>
<line x1="355.4" y1="196.6" x2="356.6" y2="196.6" stroke="#000" stroke-width="0.6" />
<text x="335.3" y="198.79999999999998" font-size="4.8" textLength="20" lengthAdjust="spacingAndGlyphs" style="stroke-width:0.1px">5.0×10<tspan font-size="3" dy="-2">4</tspan></text>
<text transform="translate(330.2,227) rotate(-90)" font-size="6.8" fill="#555" color="#555" style="stroke:none" textLength="16.4" lengthAdjust="spacingAndGlyphs">ΔMFI</text>
<rect x="361.4" y="227.3" width="6.900000000000034" height="20.299999999999983" fill="#fff" stroke="#000" stroke-width="0.9"/>
<rect x="370.8" y="222.7" width="7.199999999999989" height="24.900000000000006" fill="#000" stroke="#000" stroke-width="0.9"/>
<rect x="386.4" y="222.1" width="6.600000000000023" height="25.5" fill="#fff" stroke="#000" stroke-width="0.9"/>
<rect x="395.8" y="210" width="7.0" height="37.599999999999994" fill="#000" stroke="#000" stroke-width="0.9"/>
<rect x="411.4" y="213.8" width="6.900000000000034" height="33.79999999999998" fill="#fff" stroke="#000" stroke-width="0.9"/>
<rect x="421" y="206.7" width="7.100000000000023" height="40.900000000000006" fill="#000" stroke="#000" stroke-width="0.9"/>
<line x1="369.4" y1="247.6" x2="369.4" y2="249.2" stroke="#000" stroke-width="0.7" />
<line x1="394.4" y1="247.6" x2="394.4" y2="249.2" stroke="#000" stroke-width="0.7" />
<line x1="419.4" y1="247.6" x2="419.4" y2="249.2" stroke="#000" stroke-width="0.7" />
<text x="323" y="257.3" font-size="8.6" text-anchor="start"  textLength="30" lengthAdjust="spacingAndGlyphs">ng IL-4:</text>
<text x="369.3" y="257.3" font-size="8.6" text-anchor="middle" >0</text>
<text x="394.4" y="257.3" font-size="8.6" text-anchor="middle"  textLength="14.3" lengthAdjust="spacingAndGlyphs">250</text>
<text x="419.6" y="257.3" font-size="8.6" text-anchor="middle"  textLength="14" lengthAdjust="spacingAndGlyphs">500</text>
</svg>
</body></html>
